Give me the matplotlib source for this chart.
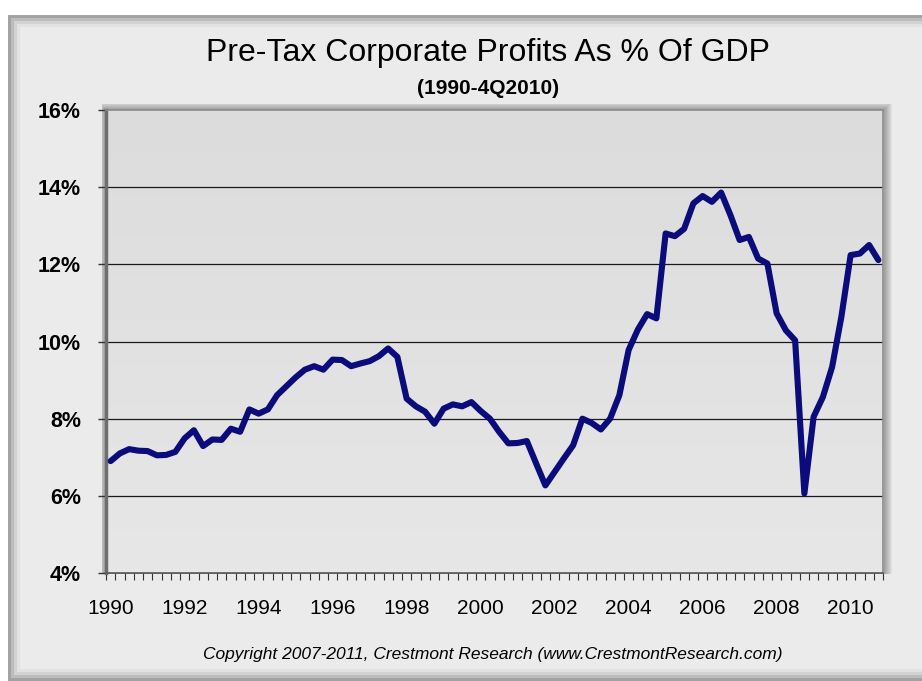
import numpy as np
import matplotlib
matplotlib.use("Agg")
import matplotlib.pyplot as plt
from matplotlib.patches import Rectangle

plt.rcParams["font.family"] = ["Liberation Sans", "DejaVu Sans"]

# ---------------------------------------------------------------
# Data: pre-tax corporate profits as % of GDP, quarterly 1990Q1-2010Q4
# ---------------------------------------------------------------
YEARS = list(range(1990, 2011))
PROFITS_PCT = [
    6.90, 7.10, 7.21, 7.17,   # 1990
    7.16, 7.05, 7.06, 7.14,   # 1991
    7.49, 7.70, 7.29, 7.46,   # 1992
    7.45, 7.74, 7.66, 8.24,   # 1993
    8.13, 8.24, 8.61, 8.84,   # 1994
    9.07, 9.27, 9.36, 9.27,   # 1995
    9.53, 9.52, 9.36, 9.43,   # 1996
    9.49, 9.62, 9.82, 9.60,   # 1997
    8.52, 8.32, 8.18, 7.87,   # 1998
    8.26, 8.37, 8.32, 8.43,   # 1999
    8.20, 8.00, 7.66, 7.36,   # 2000
    7.37, 7.42, 6.84, 6.27,   # 2001
    6.62, 6.97, 7.31, 8.00,   # 2002
    7.89, 7.72, 8.00, 8.61,   # 2003
    9.78, 10.31, 10.71, 10.60,  # 2004
    12.80, 12.73, 12.92, 13.58,  # 2005
    13.77, 13.62, 13.86, 13.28,  # 2006
    12.63, 12.71, 12.15, 12.02,  # 2007
    10.73, 10.29, 10.03, 6.06,   # 2008
    8.05, 8.56, 9.34, 10.64,     # 2009
    12.24, 12.28, 12.50, 12.11,  # 2010
]
Y_TICKS = [4, 6, 8, 10, 12, 14, 16]

TITLE = "Pre-Tax Corporate Profits As % Of GDP"
SUBTITLE = "(1990-4Q2010)"
CREDIT = "Copyright 2007-2011, Crestmont Research (www.CrestmontResearch.com)"

W, H = 922, 681
fig = plt.figure(figsize=(W / 100, H / 100), dpi=100)
fig.patch.set_facecolor("white")


def px_rect(x0, y0, x1, y1, color, alpha=1.0, z=0):
    """Rectangle given in pixel coords measured from the top-left corner."""
    fig.patches.append(Rectangle((x0 / W, 1 - y1 / H), (x1 - x0) / W, (y1 - y0) / H,
                                 transform=fig.transFigure, facecolor=color,
                                 edgecolor="none", alpha=alpha, zorder=z))


# outer framed panel with a bevel-like border
px_rect(8, 15, W + 20, H + 20, "#a3a3a3")
px_rect(11, 18, W + 20, 678, "#bcbcbc")
px_rect(14, 21, W + 20, 675, "#d2d2d2")
px_rect(17, 24, W + 20, 672, "#e2e2e2")
px_rect(20, 27, W + 20, 669, "#ebebeb")

# plot area with a soft drop shadow (top, left and right)
L, T, R, B = 106, 110, 883, 573
for k in range(1, 9):
    px_rect(L - min(k, 4), T - min(k, 6), R + k + 1, B + 1, "#000000", alpha=0.045)

ax = fig.add_axes([L / W, 1 - B / H, (R - L) / W, (B - T) / H])
ax.set_zorder(2)

x = np.arange(len(PROFITS_PCT))
ax.set_xlim(-0.5, len(PROFITS_PCT) - 0.5)
ax.set_ylim(4, 16)

# vertical gradient fill of the plot area
grad = np.linspace(0, 1, 256).reshape(-1, 1)
ax.imshow(grad, extent=[0, 1, 0, 1], transform=ax.transAxes, aspect="auto",
          cmap=matplotlib.colors.LinearSegmentedColormap.from_list(
              "bg", ["#e7e7e7", "#dcdcdc"]), origin="lower", zorder=0)

for v in Y_TICKS[1:-1]:
    ax.axhline(v, color="#1a1a1a", lw=0.9, zorder=1)

ax.plot(x, PROFITS_PCT, color="#0b0b7c", lw=4.4, solid_joinstyle="round",
        solid_capstyle="round", zorder=3)

# axes styling
for side in ["top", "right"]:
    ax.spines[side].set_color("#8a8a8a")
    ax.spines[side].set_linewidth(1.2)
ax.spines["left"].set_color("#6e6e6e")
ax.spines["left"].set_linewidth(2.5)
ax.spines["bottom"].set_color("#555555")
ax.spines["bottom"].set_linewidth(1.2)

ax.set_yticks(Y_TICKS)
ax.set_yticklabels([f"{v}%" for v in Y_TICKS], fontsize=15.5, fontweight="bold")
ax.tick_params(axis="y", direction="out", length=6, width=1, color="#333333", pad=12)

ax.set_xticks(x[::8])
ax.set_xticklabels([str(y) for y in YEARS[::2]], fontsize=15)
ax.set_xticks(np.arange(-0.5, len(PROFITS_PCT)), minor=True)
ax.tick_params(axis="x", which="major", length=0, pad=19)
ax.tick_params(axis="x", which="minor", direction="out", length=5, width=0.8,
               color="#333333")

fig.text(488 / W, 1 - 53 / H, TITLE, ha="center", va="center", fontsize=23)
fig.text(488 / W, 1 - 88 / H, SUBTITLE, ha="center", va="center", fontsize=15,
         fontweight="bold")
fig.text(493 / W, 1 - 654 / H, CREDIT, ha="center", va="center", fontsize=12.5,
         style="italic")

fig.savefig("out.png", dpi=100)
